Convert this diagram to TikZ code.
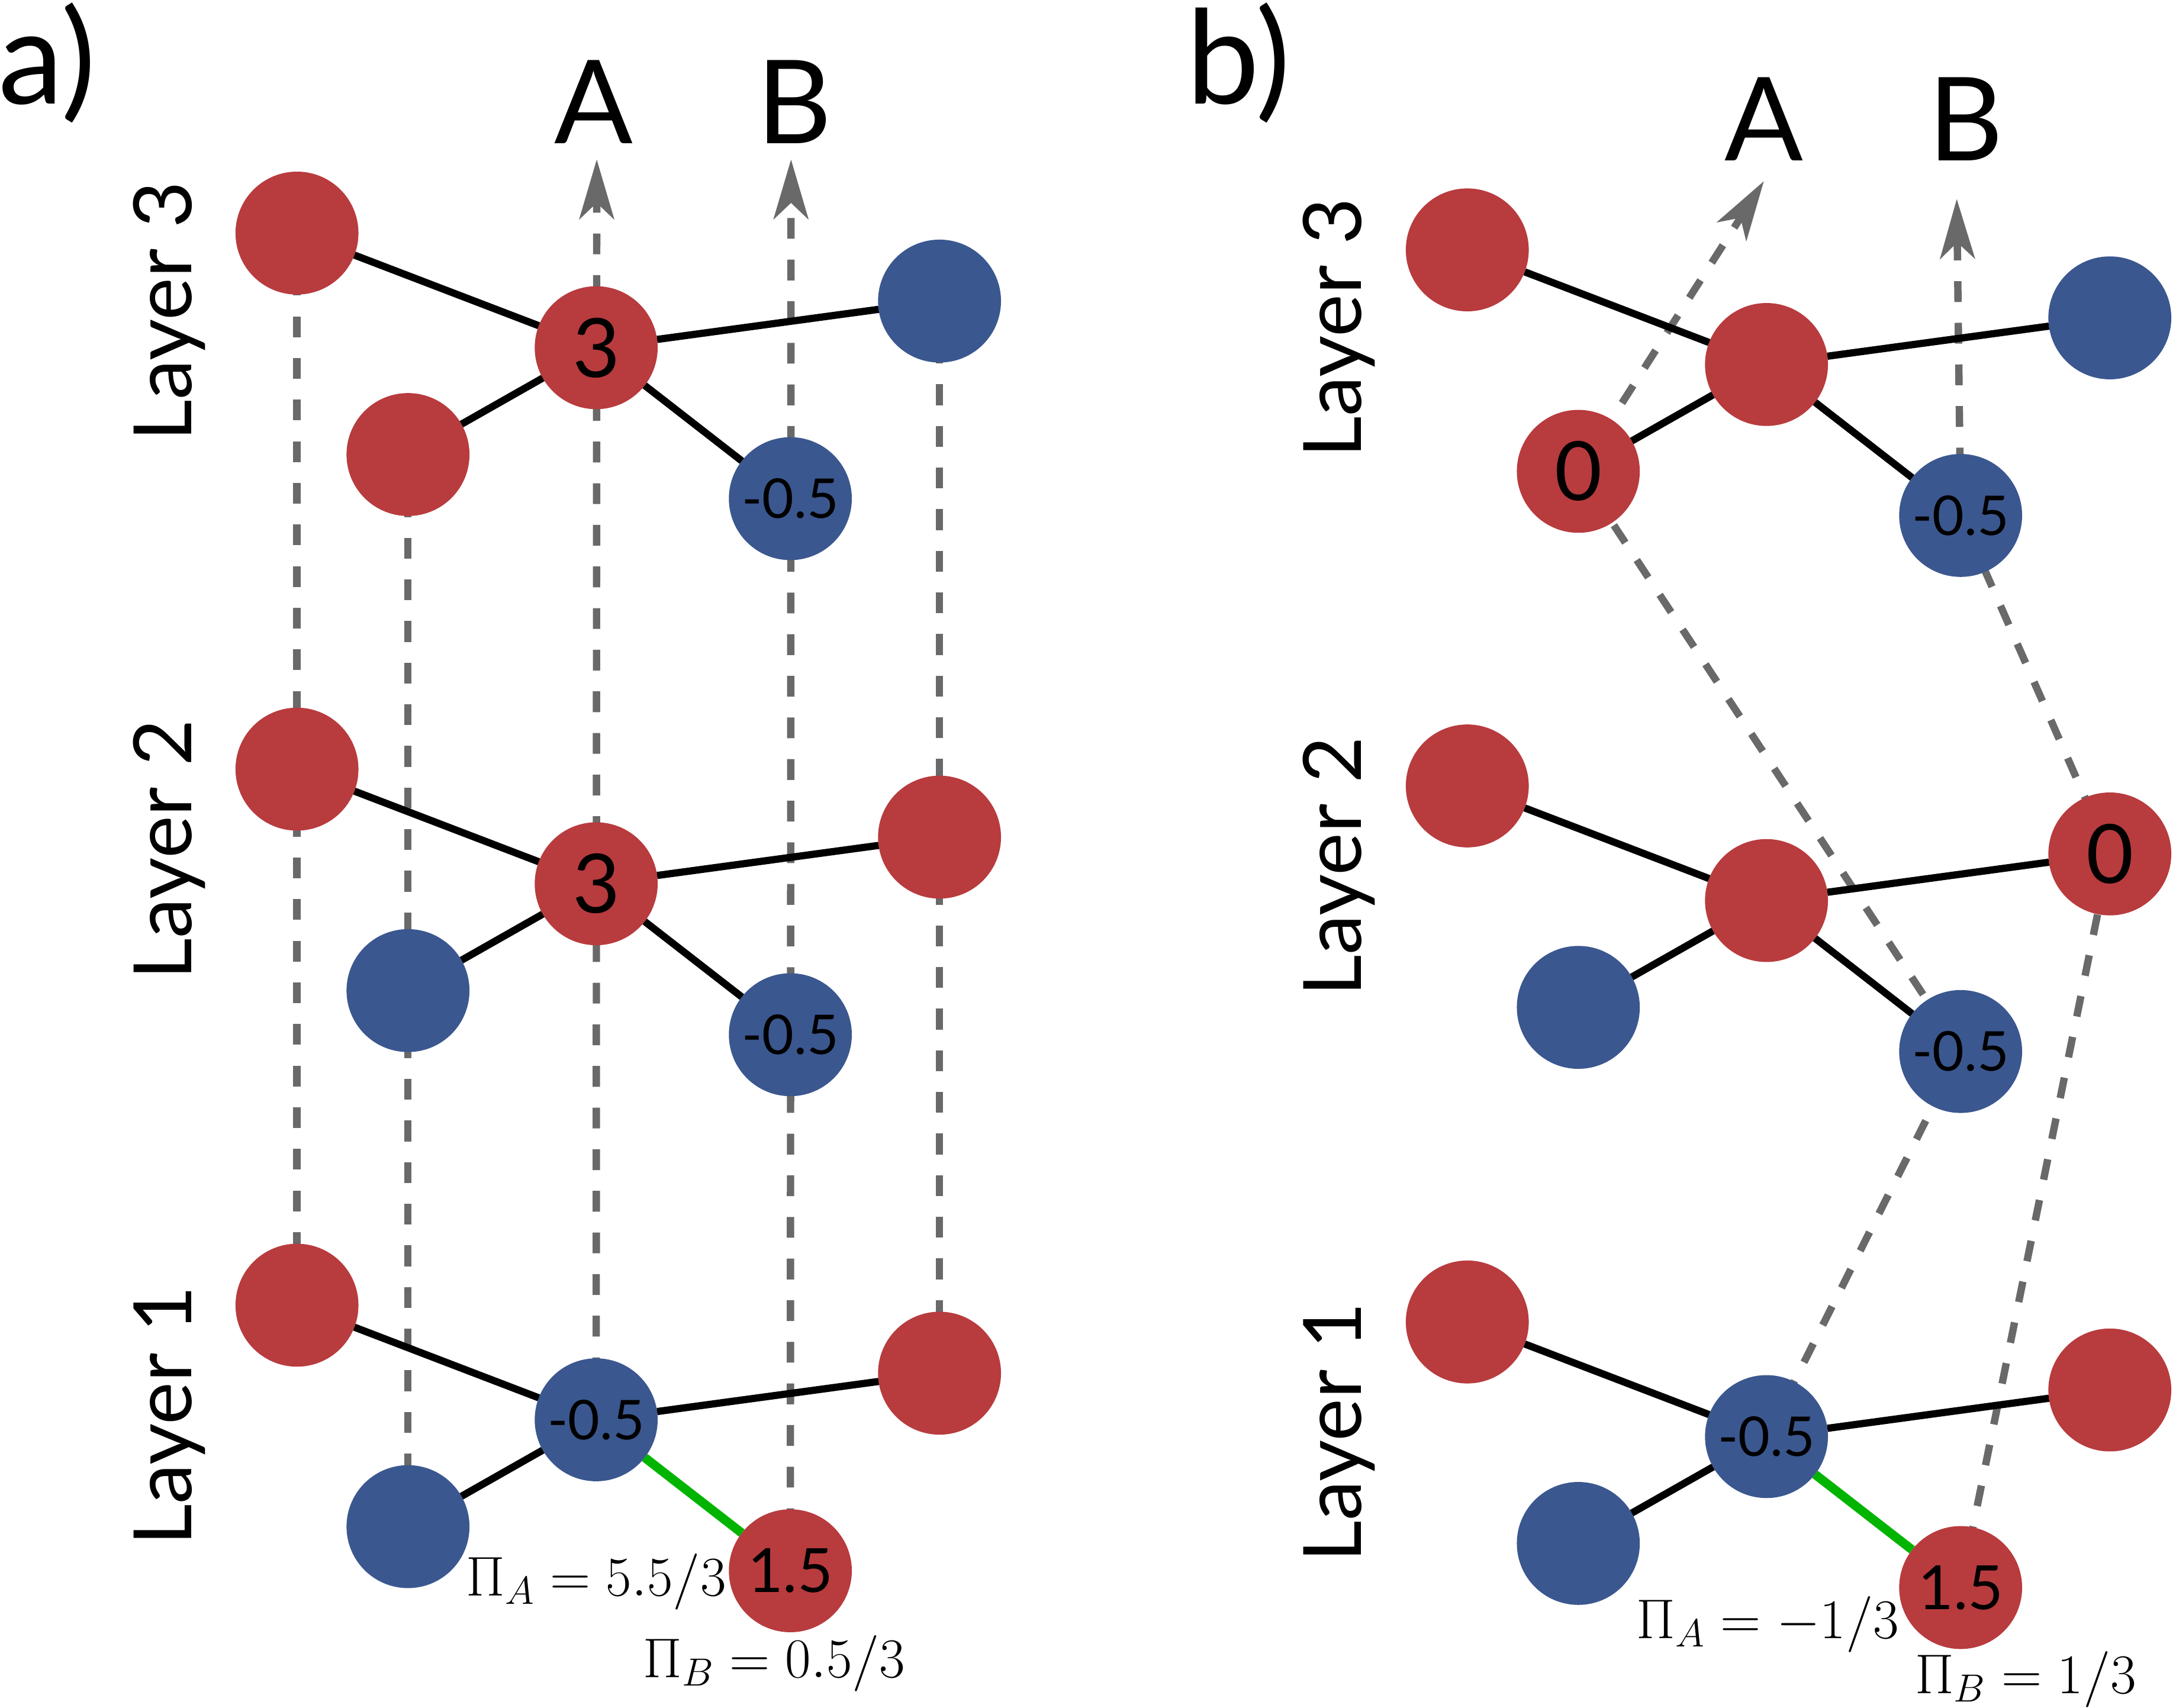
\RequirePackage{fix-cm}
\documentclass[tikz,border=0pt]{standalone}
\usepackage[no-math]{fontspec}
\newfontfamily\lato{Lato}
\usetikzlibrary{arrows.meta,backgrounds}
\definecolor{nred}{HTML}{B83B3E}
\definecolor{nblue}{HTML}{3B578F}
\definecolor{dgray}{HTML}{696969}
\definecolor{bgreen}{HTML}{00B400}
\begin{document}
\begin{tikzpicture}[x=1pt,y=-1pt,
  atom/.style={circle,inner sep=0pt,outer sep=0pt,minimum size=88.6pt,text=black,
    font=\lato\fontsize{59}{59}\selectfont},
  ratom/.style={atom,fill=nred},
  batom/.style={atom,fill=nblue},
  smalltxt/.style={font=\lato\fontsize{39.5}{40}\selectfont},
  midtxt/.style={font=\lato\fontsize{44}{44}\selectfont},
  bond/.style={draw=black,line width=5.2pt},
  gbond/.style={draw=bgreen,line width=6.5pt},
  track/.style={draw=dgray,line width=5.3pt,dash pattern=on 15pt off 15pt},
  trackarrow/.style={track,-{Stealth[length=43pt,width=25pt,inset=11.7pt]}},
  lbl/.style={inner sep=0pt,outer sep=0pt,text=black},
  panellbl/.style={lbl,font=\lato\fontsize{94}{94}\selectfont,anchor=base west},
  axislbl/.style={lbl,font=\lato\fontsize{83.7}{84}\selectfont,anchor=base},
  layerlbl/.style={lbl,font=\lato\fontsize{58}{58}\selectfont,rotate=90,anchor=base west},
  mathlbl/.style={lbl,font=\fontsize{40.4}{41}\selectfont,anchor=base west}]
\useasboundingbox (0,0) rectangle (1568,1231);

% ---------------- panel a ----------------
\begin{scope}
\node[ratom] (a3-tl) at (214,168) {};
\node[ratom] (a3-c) at (429.6,250.6) {3};
\node[ratom] (a3-ll) at (294,327.6) {};
\node[batom] (a3-r) at (677,217) {};
\node[batom,smalltxt] (a3-lr) at (569.5,359.4) {-0.5};
\end{scope}
\begin{scope}[shift={(0,386.35)}]
\node[ratom] (a2-tl) at (214,168) {};
\node[ratom] (a2-c) at (429.6,250.6) {3};
\node[batom] (a2-ll) at (294,327.6) {};
\node[ratom] (a2-r) at (677,217) {};
\node[batom,smalltxt] (a2-lr) at (569.5,359.4) {-0.5};
\end{scope}
\begin{scope}[shift={(0,772.7)}]
\node[ratom] (a1-tl) at (214,168) {};
\node[batom,smalltxt] (a1-c) at (429.6,250.6) {-0.5};
\node[batom] (a1-ll) at (294,327.6) {};
\node[ratom] (a1-r) at (677,217) {};
\node[ratom,midtxt] (a1-lr) at (569.5,359.4) {1.5};
\end{scope}

% ---------------- panel b ----------------
\begin{scope}[shift={(843.3,12.1)}]
\node[ratom] (b3-tl) at (214,168) {};
\node[ratom] (b3-c) at (429.6,250.6) {};
\node[ratom] (b3-ll) at (294,327.6) {0};
\node[batom] (b3-r) at (677,217) {};
\node[batom,smalltxt] (b3-lr) at (569.5,359.4) {-0.5};
\end{scope}
\begin{scope}[shift={(843.3,398.45)}]
\node[ratom] (b2-tl) at (214,168) {};
\node[ratom] (b2-c) at (429.6,250.6) {};
\node[batom] (b2-ll) at (294,327.6) {};
\node[ratom] (b2-r) at (677,217) {0};
\node[batom,smalltxt] (b2-lr) at (569.5,359.4) {-0.5};
\end{scope}
\begin{scope}[shift={(843.3,784.8)}]
\node[ratom] (b1-tl) at (214,168) {};
\node[batom,smalltxt] (b1-c) at (429.6,250.6) {-0.5};
\node[batom] (b1-ll) at (294,327.6) {};
\node[ratom] (b1-r) at (677,217) {};
\node[ratom,midtxt] (b1-lr) at (569.5,359.4) {1.5};
\end{scope}

% ---------------- bonds ----------------
\foreach \p in {a3,a2,a1,b3,b2,b1}{
  \draw[bond] (\p-c) -- (\p-tl);
  \draw[bond] (\p-c) -- (\p-ll);
  \draw[bond] (\p-c) -- (\p-r);
}
\foreach \p in {a3,a2,b3,b2}{
  \draw[bond] (\p-c) -- (\p-lr);
}
\draw[gbond] (a1-c) -- (a1-lr);
\draw[gbond] (b1-c) -- (b1-lr);

% ---------------- tracks ----------------
\coordinate (aTipA) at (430,114.9);
\coordinate (aTipB) at (570,114.9);
\coordinate (bTipA) at (1271,130.6);
\coordinate (bTipB) at (1410,143.4);
\begin{pgfonlayer}{background}
\draw[track] (a3-tl.center) -- (a1-tl.center);
\draw[track] (a3-ll.center) -- (a1-ll.center);
\draw[track] (a3-r.center) -- (a1-r.center);
\draw[trackarrow] (a1-c.center) -- (aTipA);
\draw[trackarrow] (a1-lr.center) -- (aTipB);
\draw[trackarrow] (b1-c.center) -- (b2-lr.center) -- (b3-ll.center) -- (bTipA);
\draw[trackarrow] (b1-lr.center) -- (b2-r.center) -- (b3-lr.center) -- (bTipB);
\end{pgfonlayer}

% ---------------- labels ----------------
\node[panellbl] (pa) at (-1,75) {a)};
\node[panellbl] (pb) at (855,75) {b)};
\node[axislbl] (aA) at (428,103.4) {A};
\node[axislbl] (aB) at (572.5,103.4) {B};
\node[axislbl] (bA) at (1271.2,115.6) {A};
\node[axislbl] (bB) at (1416.5,115.6) {B};
\node[layerlbl] (aL3) at (138,318) {Layer 3};
\node[layerlbl] (aL2) at (138,706) {Layer 2};
\node[layerlbl] (aL1) at (138,1114) {Layer 1};
\node[layerlbl] (bL3) at (981,330) {Layer 3};
\node[layerlbl] (bL2) at (981,718) {Layer 2};
\node[layerlbl] (bL1) at (981,1126) {Layer 1};
\node[mathlbl] (aPA) at (336,1150) {$\Pi_A = 5.5/3$};
\node[mathlbl] (aPB) at (463.5,1209) {$\Pi_B = 0.5/3$};
\node[mathlbl] (bPA) at (1179.3,1180.7) {$\Pi_A = -1/3$};
\node[mathlbl] (bPB) at (1380,1220.5) {$\Pi_B = 1/3$};
\end{tikzpicture}
\end{document}
